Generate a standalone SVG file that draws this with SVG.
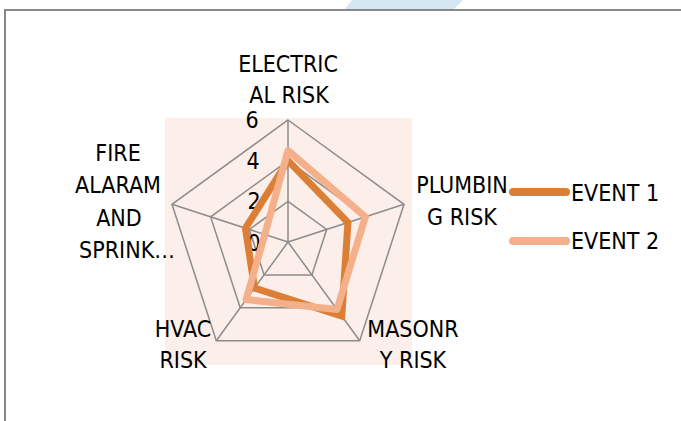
<svg xmlns="http://www.w3.org/2000/svg" width="681" height="421" viewBox="0 0 681 421">
<style>
.lbl{font-family:"DejaVu Sans","Liberation Sans",sans-serif;font-stretch:condensed;font-size:23px;fill:#000;text-anchor:middle}
.tick{font-family:"DejaVu Sans","Liberation Sans",sans-serif;font-stretch:condensed;font-size:23px;fill:#000;text-anchor:middle}
.grid{fill:none;stroke:#8c8c8c;stroke-width:1.5}
.s1{fill:none;stroke:#DC7F36;stroke-width:7;stroke-linejoin:miter}
.s2{fill:none;stroke:#F4B08A;stroke-width:7;stroke-linejoin:round}
</style>
<rect width="681" height="421" fill="#fff"/>
<polygon points="352,0 463,0 453,10 344,10" fill="#D5E8F2"/>
<path d="M5,421 V10 H681" fill="none" stroke="#888" stroke-width="2"/>
<rect x="165" y="118" width="247" height="247" fill="#FCEEE8"/>
<g id="grid">
<polygon class="grid" points="288,120 404.03,204.3 359.71,340.7 216.29,340.7 171.97,204.3"/>
<polygon class="grid" points="288,160.67 365.35,216.87 335.81,307.8 240.19,307.8 210.65,216.87"/>
<polygon class="grid" points="288,201.33 326.68,229.43 311.9,274.9 264.1,274.9 249.32,229.43"/>
<path class="grid" d="M288,242 L288,120 M288,242 L404.03,204.3 M288,242 L359.71,340.7 M288,242 L216.29,340.7 M288,242 L171.97,204.3"/>
</g>
<g id="ticks">
<text class="tick" x="252" y="128">6</text>
<text class="tick" x="253" y="169">4</text>
<text class="tick" x="254" y="209">2</text>
<text class="tick" x="254" y="251">0</text>
</g>
<g id="connectors">
<polygon id="event1" class="s1" points="288,160.67 347.95,222.52 341.78,316.02 254.53,288.06 245.45,228.18"/>
<polygon id="event2" class="s2" points="288,150.5 365.35,216.87 337,309.45 246.17,299.57 264.79,234.46"/>
</g>
<g id="axis-electrical">
<text class="lbl" x="288" y="72">ELECTRIC</text>
<text class="lbl" x="289" y="103">AL RISK</text>
</g>
<g id="axis-plumbing">
<text class="lbl" x="462" y="193">PLUMBIN</text>
<text class="lbl" x="462" y="225">G RISK</text>
</g>
<g id="axis-masonry">
<text class="lbl" x="413" y="337">MASONR</text>
<text class="lbl" x="413" y="368">Y RISK</text>
</g>
<g id="axis-hvac">
<text class="lbl" x="183" y="337">HVAC</text>
<text class="lbl" x="183" y="368">RISK</text>
</g>
<g id="axis-fire">
<text class="lbl" x="118" y="161">FIRE</text>
<text class="lbl" x="118" y="193">ALARAM</text>
<text class="lbl" x="119" y="226">AND</text>
<text class="lbl" x="127" y="258">SPRINK…</text>
</g>
<g id="legend">
<line x1="513" y1="192" x2="566" y2="192" stroke="#DC7F36" stroke-width="8" stroke-linecap="round"/>
<text class="lbl" x="571" y="201" style="text-anchor:start">EVENT 1</text>
<line x1="513" y1="241" x2="566" y2="241" stroke="#F4B08A" stroke-width="8" stroke-linecap="round"/>
<text class="lbl" x="571" y="249" style="text-anchor:start">EVENT 2</text>
</g>
</svg>
